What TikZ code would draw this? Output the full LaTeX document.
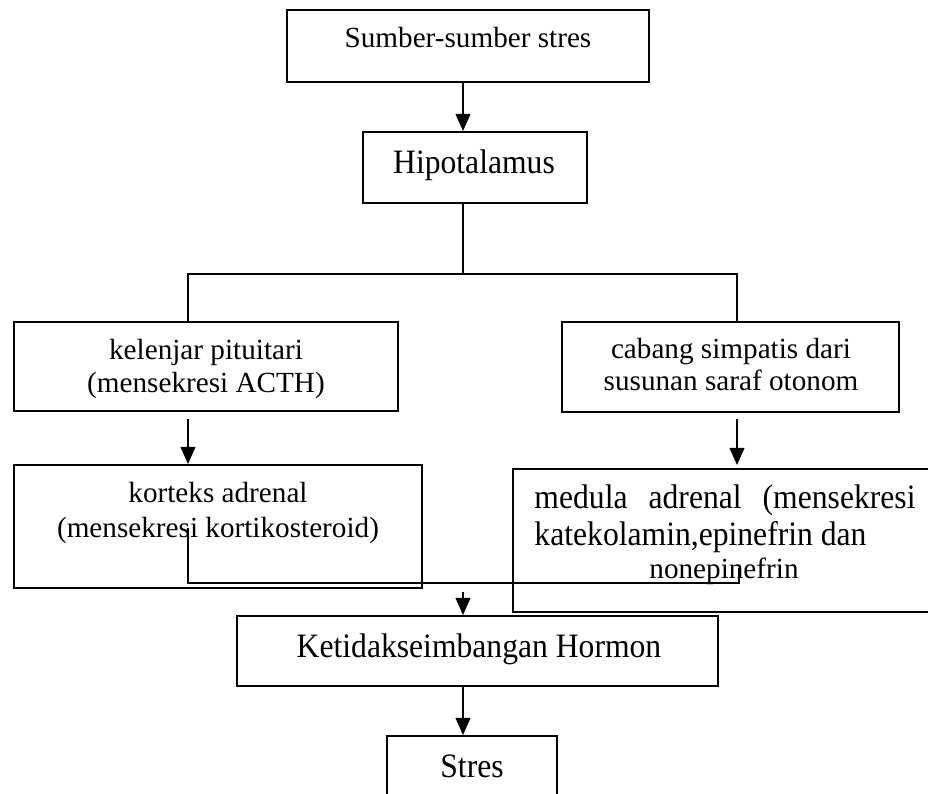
\documentclass[tikz,border=0pt]{standalone}
\usepackage{fontspec}
\usepackage{graphicx}
\setmainfont{Liberation Serif}
\usetikzlibrary{arrows.meta,calc,fit}

% teks yang sedikit lebih tinggi
\newcommand{\tinggi}[1]{\scalebox{1}[1.08]{#1}}

\tikzset{
    kotak/.style={draw,line width=0.8pt,inner sep=0pt},
    teks/.style={anchor=base,inner sep=0pt,font=\fontsize{12}{14}\selectfont},
    teksbesar/.style={teks,font=\fontsize{13}{15}\selectfont},
    garis/.style={line width=0.8pt},
    panah/.style={line width=0.8pt,-{Triangle[length=7pt,width=6pt]}}
}

\begin{document}
\begin{tikzpicture}[x=0.411pt,y=-0.411pt]
    
    % Batas gambar
    \useasboundingbox (0,0) rectangle (928,794);
    
    % Gambar kotak-kotak
    \node[kotak,fit={(287,10) (649,82)}] (sumber) {};
    \node[kotak,fit={(363,132) (587,203)}] (hipo) {};
    \node[kotak,fit={(14,322) (398,411)}] (kelenjar) {};
    \node[kotak,fit={(562,322) (899,412)}] (cabang) {};
    \node[kotak,fit={(14,465) (422,588)}] (korteks) {};
    \node[kotak,fit={(513,469) (929,612)}] (medula) {};
    \node[kotak,fit={(237,616) (718,686)}] (ketidak) {};
    \node[kotak,fit={(387,736) (557,800)}] (stres) {};
    
    % Tulisan di dalam kotak
    \node[teks] (tsumber) at (468,48) {Sumber-sumber stres};
    \node[teksbesar] (thipo) at (474,173) {\tinggi{Hipotalamus}};
    \node[teks] (tkelenjar1) at (206,359) {kelenjar pituitari};
    \node[teks] (tkelenjar2) at (206,392) {(mensekresi ACTH)};
    \node[teks] (tcabang1) at (731,358) {cabang simpatis dari};
    \node[teks] (tcabang2) at (731,390) {susunan saraf otonom};
    \node[teks] (tkorteks1) at (218,502) {korteks adrenal};
    \node[teks] (tkorteks2) at (218,537) {(mensekresi kortikosteroid)};
    \node[teksbesar,anchor=base west] (tmedula1) at (534,508) {\tinggi{\makebox[156.6pt][s]{medula adrenal (mensekresi}}};
    \node[teksbesar,anchor=base west] (tmedula2) at (534,545) {\tinggi{katekolamin,epinefrin dan}};
    \node[teks] (tmedula3) at (724,578) {nonepinefrin};
    \node[teksbesar] (tketidak) at (479,657) {\tinggi{Ketidakseimbangan Hormon}};
    \node[teksbesar] (tstres) at (472,777) {\tinggi{Stres}};
    
    % Titik bantu untuk garis penghubung
    \coordinate (tengah) at (463,0);
    \coordinate (kiri) at (188,274);
    \coordinate (kanan) at (737,274);
    \coordinate (ujungkiri) at (188,528);
    \coordinate (bawah) at (739,583);
    \coordinate (ujungkanan) at (739,568);
    \coordinate (awalpanah) at (463,592);
    
    % Gambar panah dan garis penghubung
    \draw[panah] (sumber.south -| tengah) -- (hipo.north -| tengah);
    \draw[garis] (hipo.south -| tengah) -- (kiri -| tengah);
    \draw[garis] (kelenjar.north -| kiri) -- (kiri) -- (kanan) -- (cabang.north -| kanan);
    \draw[panah] ($(kelenjar.south -| kiri)+(0,7)$) -- (korteks.north -| kiri);
    \draw[panah] ($(cabang.south -| kanan)+(0,6)$) -- ($(medula.north -| kanan)+(0,-3)$);
    \draw[garis] (ujungkiri) -- (ujungkiri |- bawah) -- (bawah) -- (ujungkanan);
    \draw[panah] (awalpanah) -- (ketidak.north -| tengah);
    \draw[panah] (ketidak.south -| tengah) -- (stres.north -| tengah);
    
\end{tikzpicture}
\end{document}
